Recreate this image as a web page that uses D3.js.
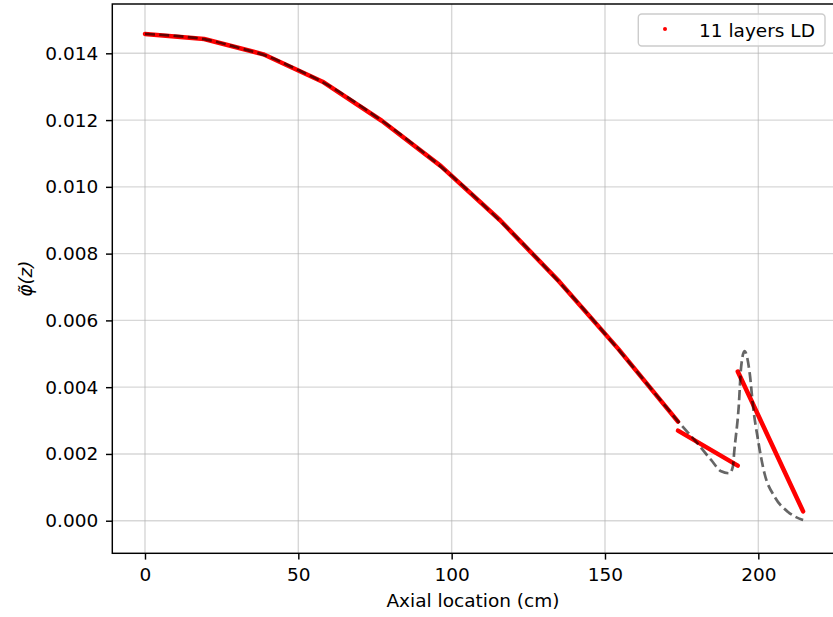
<!DOCTYPE html>
<html>
<head>
<meta charset="utf-8">
<script src="https://cdn.jsdelivr.net/npm/d3@7"></script>
<style>
  body { margin: 0; background: #fff; }
  svg { display: block; font-family: "DejaVu Sans", sans-serif; }
</style>
</head>
<body>
<svg class="canvas" width="833" height="617"></svg>
<script>

// reference curve (dashed)
var refZ   = [0, 10, 20, 30, 40, 50, 60, 70, 80, 90, 100, 110, 120, 130, 140, 150, 160, 170, 175,
              179.2, 184.6, 187.9, 190.6, 191.7, 192.2, 193.6, 194.4, 195.5, 197.2, 198.3, 199.9,
              202, 205.3, 209.6, 214.6];
var refPhi = [0.01458, 0.01452, 0.01441, 0.01418, 0.01391, 0.01350, 0.01303, 0.01244, 0.01180,
              0.01109, 0.01033, 0.00949, 0.00860, 0.00765, 0.00665, 0.00560, 0.00451, 0.00340,
              0.00285, 0.00242, 0.00182, 0.00148, 0.00142, 0.00162, 0.00212, 0.00341, 0.00461,
              0.00508, 0.00441, 0.00341, 0.00242, 0.00142, 0.00072, 0.00027, 0.00002];

// 11 layers LD: first 9 layers joined, then layers 10 and 11
var ldZ1   = [0, 19.3, 38.6, 57.9, 77.2, 96.5, 115.8, 135.1, 154.4, 173.8];
var ldPhi1 = [0.01458, 0.01443, 0.01397, 0.01315, 0.01198, 0.01062, 0.00900, 0.00716, 0.00514, 0.00297];
var ldZ2   = [173.8, 193.3];
var ldPhi2 = [0.00270, 0.00165];
var ldZ3   = [193.3, 214.6];
var ldPhi3 = [0.00447, 0.00028];

var xTicks = [0, 50, 100, 150, 200];
var yTicks = [0, 0.002, 0.004, 0.006, 0.008, 0.010, 0.012, 0.014];

var padL = 112.3, padR = 835.6, padT = 4, padB = 553.3;

var svg = d3.select('.canvas');

var x = d3.scaleLinear().domain([-10.66, 225.2]).range([padL, padR]);
var y = d3.scaleLinear().domain([-0.000976, 0.015477]).range([padB, padT]);

// grid
svg.append('g').selectAll('line').data(xTicks).enter().append('line')
    .attr('x1', function(d) { return x(d); }).attr('x2', function(d) { return x(d); })
    .attr('y1', padT).attr('y2', padB)
    .attr('stroke', '#b0b0b0').attr('stroke-opacity', 0.5).attr('stroke-width', 1.4);
svg.append('g').selectAll('line').data(yTicks).enter().append('line')
    .attr('x1', padL).attr('x2', padR)
    .attr('y1', function(d) { return y(d); }).attr('y2', function(d) { return y(d); })
    .attr('stroke', '#b0b0b0').attr('stroke-opacity', 0.5).attr('stroke-width', 1.4);

function pts(zs, ps) {
    return zs.map(function(z, i) { return [z, ps[i]]; });
}

var straight = d3.line().x(function(d) { return x(d[0]); }).y(function(d) { return y(d[1]); });
var smooth = d3.line().x(function(d) { return x(d[0]); }).y(function(d) { return y(d[1]); })
    .curve(d3.curveMonotoneX);

[pts(ldZ1, ldPhi1), pts(ldZ2, ldPhi2), pts(ldZ3, ldPhi3)].forEach(function(seg) {
    svg.append('path')
        .attr('d', straight(seg))
        .attr('fill', 'none')
        .attr('stroke', '#ff0000')
        .attr('stroke-width', 4.5)
        .attr('stroke-linecap', 'round')
        .attr('stroke-linejoin', 'round');
});

svg.append('path')
    .attr('d', smooth(pts(refZ, refPhi)))
    .attr('fill', 'none')
    .attr('stroke', '#000')
    .attr('stroke-opacity', 0.6)
    .attr('stroke-width', 2.7)
    .attr('stroke-dasharray', '10,4.3');

// axes
var xAxis = svg.append('g')
    .attr('transform', 'translate(0,' + padB + ')')
    .call(d3.axisBottom(x).tickValues(xTicks).tickSize(6.3).tickPadding(8).tickFormat(d3.format('d')));
var yAxis = svg.append('g')
    .attr('transform', 'translate(' + padL + ',0)')
    .call(d3.axisLeft(y).tickValues(yTicks).tickSize(6.3).tickPadding(7.7).tickFormat(d3.format('.3f')));

[xAxis, yAxis].forEach(function(g) {
    g.select('.domain').remove();
    g.selectAll('line').attr('stroke', '#000').attr('stroke-width', 1.45);
    g.selectAll('text').attr('font-family', 'DejaVu Sans').attr('font-size', 18.5).attr('fill', '#000');
});

svg.append('rect')
    .attr('x', padL).attr('y', padT)
    .attr('width', padR - padL).attr('height', padB - padT)
    .attr('fill', 'none').attr('stroke', '#000').attr('stroke-width', 1.45);

// labels
svg.append('text')
    .attr('x', (padL + padR) / 2 - 1).attr('y', 607)
    .attr('text-anchor', 'middle')
    .attr('font-size', 18.5)
    .text('Axial location (cm)');

svg.append('text')
    .attr('transform', 'translate(32,' + ((padT + padB) / 2) + ') rotate(-90)')
    .attr('text-anchor', 'middle')
    .attr('font-size', 18.5)
    .attr('font-style', 'italic')
    .text('\u03c6\u0303(z)');

// legend
var leg = svg.append('g');
leg.append('rect')
    .attr('x', 638.3).attr('y', 14).attr('width', 186.7).attr('height', 32).attr('rx', 3.5)
    .attr('fill', '#fff').attr('fill-opacity', 0.8)
    .attr('stroke', '#cccccc').attr('stroke-width', 1.4);
leg.append('circle').attr('cx', 665).attr('cy', 29).attr('r', 2).attr('fill', '#ff0000');
leg.append('text').attr('x', 699).attr('y', 36.5).attr('font-size', 18.5).text('11 layers LD');

</script>
</body>
</html>
